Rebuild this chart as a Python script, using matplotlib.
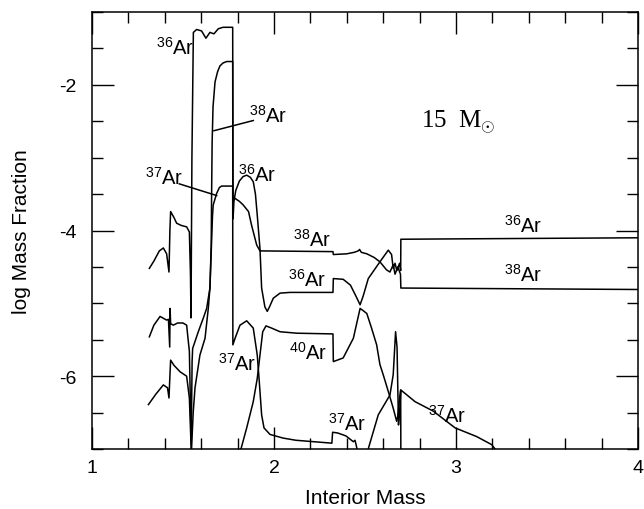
import numpy as np
import matplotlib
matplotlib.use("Agg")
import matplotlib.pyplot as plt
from matplotlib.ticker import MultipleLocator

plt.rcParams['font.family'] = ['Liberation Sans', 'DejaVu Sans']
plt.rcParams['mathtext.fontset'] = 'custom'
plt.rcParams['mathtext.rm'] = 'Liberation Sans'
plt.rcParams['mathtext.it'] = 'Liberation Sans:italic'
plt.rcParams['mathtext.bf'] = 'Liberation Sans:bold'
plt.rcParams['axes.unicode_minus'] = False

# ---- data (interior mass, log mass fraction) ----
ar36_x = [1.315, 1.34, 1.37, 1.392, 1.41, 1.423, 1.428, 1.432, 1.45, 1.465, 1.49, 1.52, 1.535,
          1.541, 1.544, 1.549, 1.557, 1.575, 1.602, 1.626, 1.648, 1.67, 1.694, 1.72, 1.773,
          1.775, 1.78, 1.79, 1.81, 1.83, 1.85, 1.87, 1.886, 1.898, 1.908, 1.923, 1.932, 1.95,
          1.963, 1.975, 1.996, 2.033, 2.088, 2.324, 2.326, 2.38, 2.42, 2.45, 2.473, 2.49, 2.518,
          2.582, 2.628, 2.646, 2.655, 2.665, 2.675, 2.69, 2.696, 2.697, 3.0, 4.0]
ar36_y = [-4.52, -4.42, -4.28, -4.24, -4.32, -4.57, -4.0, -3.74, -3.82, -3.90, -3.93, -3.95, -4.02,
          -4.6, -5.2, -3.0, -1.28, -1.24, -1.26, -1.36, -1.28, -1.30, -1.23, -1.21, -1.21,
          -3.84, -3.6, -3.45, -3.32, -3.26, -3.24, -3.27, -3.33, -3.5, -3.79, -4.25, -4.79, -5.05,
          -5.11, -5.05, -4.93, -4.86, -4.85, -4.85, -4.66, -4.67, -4.75, -4.9, -5.02, -4.9, -4.66,
          -4.43, -4.27, -4.33, -4.52, -4.45, -4.55, -4.45, -4.55, -4.12, -4.115, -4.10]

ar38_x = [1.315, 1.34, 1.374, 1.41, 1.42, 1.427, 1.429, 1.432, 1.447, 1.47, 1.50, 1.52, 1.535,
          1.545, 1.55, 1.553, 1.584, 1.612, 1.63, 1.648, 1.655, 1.657, 1.660, 1.665, 1.676, 1.69,
          1.703, 1.72, 1.74, 1.773, 1.774, 1.786, 1.81, 1.831, 1.86, 1.877, 1.905, 1.923, 2.324,
          2.326, 2.40, 2.44, 2.463, 2.47, 2.48, 2.51, 2.55, 2.582, 2.618, 2.637, 2.655, 2.665,
          2.68, 2.695, 2.697, 4.0]
ar38_y = [-5.46, -5.30, -5.18, -5.23, -5.22, -5.6, -5.07, -5.28, -5.30, -5.27, -5.27, -5.30, -5.66,
          -6.94, -5.8, -5.62, -5.39, -5.20, -5.07, -4.79, -4.2, -3.56, -2.8, -2.3, -1.96, -1.82,
          -1.74, -1.70, -1.68, -1.68, -3.56, -3.56, -3.60, -3.65, -3.74, -3.93, -4.20, -4.28, -4.29,
          -4.33, -4.32, -4.30, -4.28, -4.26, -4.30, -4.32, -4.37, -4.43, -4.54, -4.57, -4.47, -4.60,
          -4.50, -4.60, -4.79, -4.81]

ar37_x = [1.31, 1.35, 1.392, 1.415, 1.423, 1.428, 1.432, 1.45, 1.484, 1.52, 1.535, 1.545, 1.547,
          1.556, 1.566, 1.593, 1.621, 1.639, 1.648, 1.655, 1.662, 1.666, 1.685, 1.70, 1.712, 1.773,
          1.774, 1.786, 1.813, 1.85, 1.886, 1.908, 1.919, 1.932, 1.945, 1.978, 2.05, 2.12, 2.318,
          2.322, 2.35, 2.395, 2.436, 2.445, 2.452, 2.46, np.nan, 2.515, 2.52, 2.573, 2.637, 2.655,
          2.668, 2.676, 2.684, 2.69, 2.697, 2.775, 2.875, 2.995, 3.114, 3.196, 3.23]
ar37_y = [-6.39, -6.25, -6.12, -6.16, -6.30, -6.0, -5.78, -5.85, -5.94, -6.00, -6.30, -7.0, -7.0,
          -6.5, -6.16, -5.71, -5.48, -5.07, -4.79, -4.3, -3.8, -3.65, -3.49, -3.41, -3.39, -3.39,
          -5.57, -5.48, -5.30, -5.24, -5.34, -5.71, -6.07, -6.53, -6.71, -6.80, -6.85, -6.88, -6.92,
          -6.77, -6.78, -6.82, -6.90, -6.88, -6.95, -7.05, np.nan, -7.05, -6.98, -6.53, -6.26, -5.98,
          -5.39, -5.6, -6.67, -6.5, -6.19, -6.35, -6.48, -6.71, -6.83, -6.94, -7.05]

ar40_x = [1.813, 1.85, 1.886, 1.908, 1.923, 1.938, 1.956, 1.987, 2.033, 2.125, 2.324, 2.326, 2.38,
          2.436, 2.473, 2.49, 2.51, 2.536, 2.564, 2.582, 2.6, 2.628, 2.655, 2.674, 2.68, 2.688,
          2.696, 2.697]
ar40_y = [-7.05, -6.71, -6.35, -6.03, -5.71, -5.39, -5.31, -5.34, -5.39, -5.41, -5.42, -5.80, -5.75,
          -5.48, -5.07, -5.10, -5.14, -5.34, -5.57, -5.84, -5.98, -6.21, -6.44, -6.62, -6.55, -6.35,
          -6.19, -7.05]

# labels: (text, x, y)
label_text = [r'$^{36}$Ar', r'$^{38}$Ar', r'$^{37}$Ar', r'$^{36}$Ar', r'$^{38}$Ar', r'$^{36}$Ar',
              r'$^{40}$Ar', r'$^{37}$Ar', r'$^{37}$Ar', r'$^{37}$Ar', r'$^{36}$Ar', r'$^{38}$Ar']
label_x = [1.456, 1.967, 1.396, 1.907, 2.209, 2.181, 2.187, 1.80, 2.40, 2.95, 3.37, 3.37]
label_y = [-1.48, -2.41, -3.27, -3.22, -4.11, -4.66, -5.67, -5.82, -6.64, -6.53, -3.92, -4.59]

# leader lines: ((x0, y0), (x1, y1))
leader_38 = [(1.670, -2.63), (1.886, -2.49)]
leader_37 = [(1.48, -3.36), (1.685, -3.52)]

xticks = [1, 2, 3, 4]
yticks = [-2, -4, -6]

# ---- figure ----
fig = plt.figure(figsize=(6.44, 5.10), dpi=100)
ax = fig.add_axes([92/644, 1 - 450/510, (638 - 92)/644, (450 - 13)/510])

lw = 1.1
for xs, ys in [(ar36_x, ar36_y), (ar38_x, ar38_y), (ar37_x, ar37_y), (ar40_x, ar40_y)]:
    ax.plot(xs, ys, color='black', lw=lw, solid_joinstyle='round')

for (p0, p1) in [leader_38, leader_37]:
    ax.plot([p0[0], p1[0]], [p0[1], p1[1]], color='black', lw=lw)

for t, x, y in zip(label_text, label_x, label_y):
    ax.text(x, y, t, fontsize=14.5, ha='center', va='center')

ax.text(3.01, -2.507, r'15  M$_{\odot}$', fontsize=18, family='Liberation Serif',
        ha='center', va='center')

ax.set_xlim(1, 4)
ax.set_ylim(-7, -1)
ax.set_xticks(xticks)
ax.set_yticks(yticks)
ax.xaxis.set_minor_locator(MultipleLocator(0.2))
ax.yaxis.set_minor_locator(MultipleLocator(0.5))
ax.tick_params(which='both', direction='in', top=True, right=True, width=1.0, labelsize=14)
ax.tick_params(axis='x', which='both', pad=7)
ax.tick_params(axis='y', which='both', pad=11)
ax.tick_params(which='major', length=16)
ax.tick_params(which='minor', length=8)
for s in ax.spines.values():
    s.set_linewidth(1.1)

ax.set_xlabel('Interior Mass', fontsize=15, labelpad=9)
ax.set_ylabel('log Mass Fraction', fontsize=15, labelpad=20)

fig.savefig('out.png', dpi=100)
